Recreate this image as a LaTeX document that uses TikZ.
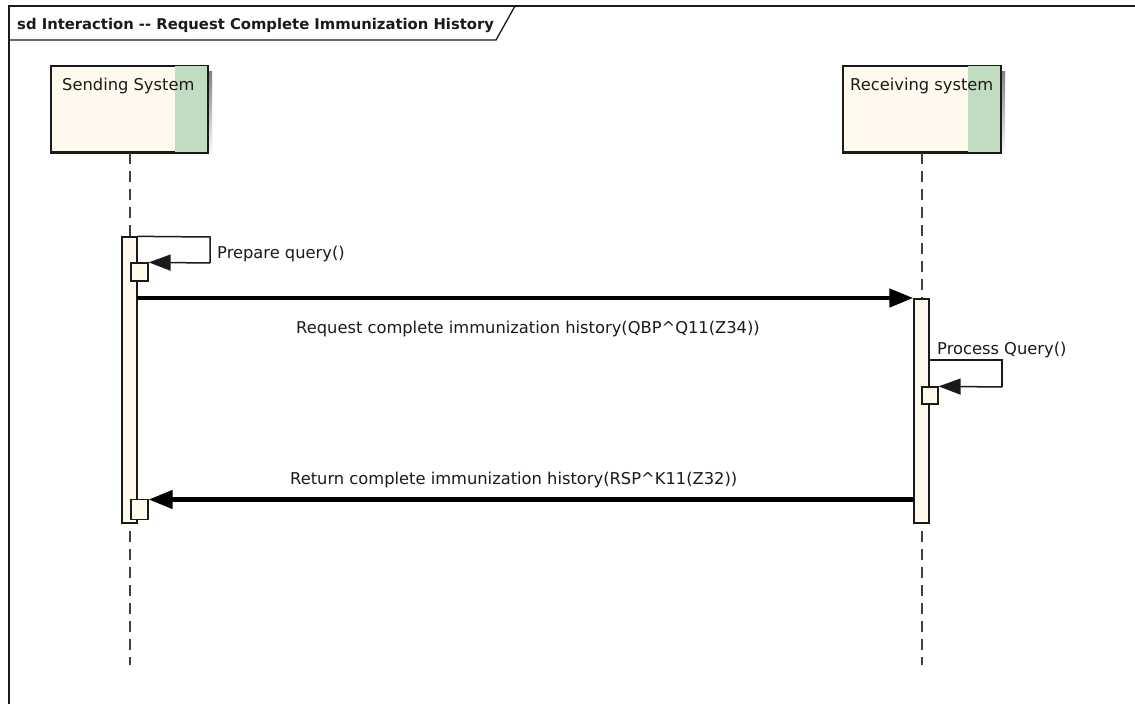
\documentclass[tikz,border=0pt]{standalone}
\usepackage{fontspec}
\setmainfont{DejaVu Sans}
\usetikzlibrary{arrows.meta,calc}
\definecolor{cream}{HTML}{FFF9EE}
\definecolor{strip}{HTML}{C1DCC1}
\definecolor{shade}{HTML}{C4C4C4}
\definecolor{ink}{HTML}{1A1A1A}
\definecolor{lifeink}{HTML}{404040}
\tikzset{
  lbl/.style={inner sep=0pt, anchor=base west, text=ink, font=\fontsize{16.3}{19}\selectfont},
  actorbox/.style={draw=ink, line width=1.5pt, fill=cream, minimum width=156pt, minimum height=86pt, inner sep=0pt},
  actbar/.style={draw=ink, line width=1.3pt, fill=cream, minimum width=15pt, inner sep=0pt},
  execbox/.style={draw=ink, line width=1.3pt, fill=cream, minimum width=17pt, minimum height=18pt, inner sep=0pt},
  lifeline/.style={draw=lifeink, line width=1.2pt, dash pattern=on 11pt off 7pt},
  bigmsg/.style={draw=black, line width=4.5pt, -{Triangle[length=24pt,width=18pt]}},
  selfmsg/.style={draw=ink, line width=1.5pt, -{Triangle[length=22pt,width=16pt]}},
}
\begin{document}
\begin{tikzpicture}[x=1pt,y=-1pt]
\useasboundingbox (0,0) rectangle (1135,704);
\fill[white] (0,0) rectangle (1135,704);
% frame
\draw[ink, line width=1.5pt] (1135,6) -- (9,6) -- (9,704);
\coordinate (tabA) at (9,40);
\coordinate (tabB) at (496,40);
\coordinate (tabC) at (515,6);
\draw[ink, line width=1.3pt] (tabA) -- (tabB) -- (tabC);
\node[lbl, font=\bfseries\fontsize{14.8}{17}\selectfont] (title) at (17,29) {sd Interaction {-}{-} Request Complete Immunization History};

% actors
\fill[shade] (56,71) rectangle (212,157);
\fill[shade] (848,71) rectangle (1005,157);
\node[actorbox] (snd) at (129,109) {};
\node[actorbox, minimum width=157pt] (rcv) at (921.5,109) {};
\fill[strip] ($(snd.north east)+(-33,0)$) rectangle (snd.south east);
\fill[strip] ($(rcv.north east)+(-33,0)$) rectangle (rcv.south east);
\draw[ink, line width=1.5pt] (snd.north west) rectangle (snd.south east);
\draw[ink, line width=1.5pt] (rcv.north west) rectangle (rcv.south east);
\node[lbl] (sndl) at (62,90) {Sending System};
\node[lbl] (rcvl) at (850,90) {Receiving system};

% lifelines
\coordinate (sndend) at (130,665);
\coordinate (rcvend) at (922,665);
\draw[lifeline] (snd.south -| sndend) -- (sndend);
\draw[lifeline] (rcv.south -| rcvend) -- (rcvend);

% activation bars
\node[actbar, minimum height=286pt] (sbar) at (129.5,380) {};
\node[actbar, minimum height=224pt] (rbar) at (921.5,411) {};

% Prepare query
\node[execbox] (sx1) at (139.5,272) {};
\coordinate (p1) at (210,237);
\coordinate (p2) at (210,263);
\draw[ink, line width=1.5pt] (sbar.north east) -- (p1) -- (p2);
\draw[selfmsg] (p2) -- (sx1.north east);
\node[lbl] (pql) at (217,258) {Prepare query()};

% Request
\coordinate (reqS) at (137,298);
\draw[bigmsg] (reqS) -- (reqS -| rbar.west);
\node[lbl] (reql) at (296,333) {Request complete immunization history(QBP\^{}Q11(Z34))};

% Process Query
\node[execbox, minimum width=16pt, minimum height=17pt] (rx1) at (930,395.5) {};
\coordinate (q0) at (929,360);
\coordinate (q1) at (1002,360);
\coordinate (q2) at (1002,387);
\draw[ink, line width=1.5pt] (q0) -- (q1) -- (q2);
\draw[selfmsg] (q2) -- (rx1.north east);
\node[lbl] (pcl) at (937,354) {Process Query()};

% Return
\node[execbox, minimum height=20pt] (sx2) at (139.5,509.5) {};
\coordinate (retS) at (914,499.5);
\draw[bigmsg] (retS) -- (retS -| sx2.east);
\node[lbl] (retl) at (290,484) {Return complete immunization history(RSP\^{}K11(Z32))};
\end{tikzpicture}
\end{document}
